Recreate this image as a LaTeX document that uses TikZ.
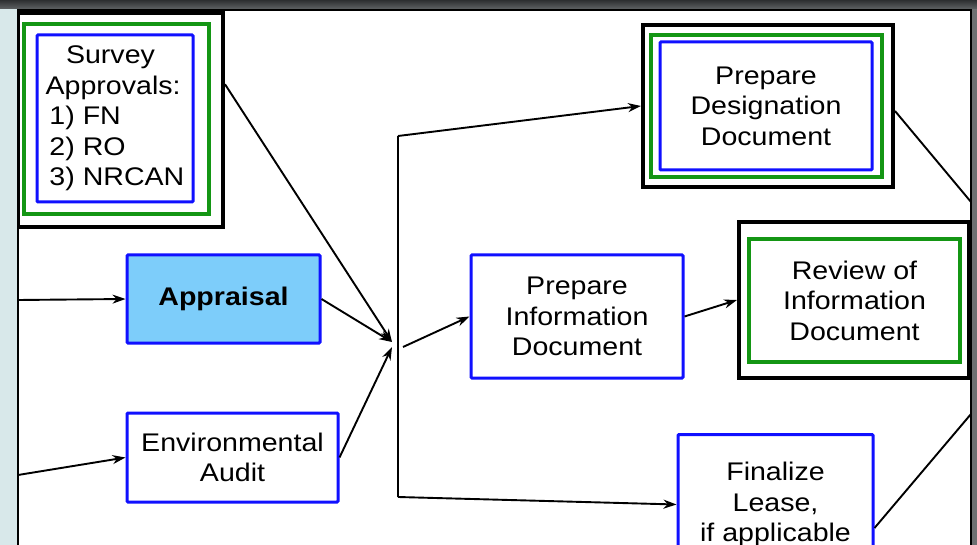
\documentclass[tikz,border=0pt]{standalone}
\usepackage{fontspec}
\setmainfont{Liberation Sans}[FakeStretch=1.12]
\usetikzlibrary{arrows.meta,calc}

\definecolor{boxblue}{RGB}{16,16,255}
\definecolor{boxgreen}{RGB}{20,150,20}
\definecolor{apprfill}{RGB}{125,205,250}
\definecolor{sidepanel}{RGB}{216,232,234}
\definecolor{bardark}{RGB}{45,47,49}
\definecolor{barlight}{RGB}{95,98,100}
\definecolor{rightbar}{RGB}{110,112,114}

\newcommand\diagfont{\fontsize{25.5}{30.5}\selectfont}

\begin{document}
\begin{tikzpicture}[x=1pt,y=-1pt,
  txt/.style={font=\diagfont, align=center, text=black},
  bluebox/.style={txt, draw=boxblue, line width=3pt, fill=white, rounded corners=1pt, inner sep=0pt},
  greenframe/.style={draw=boxgreen, line width=3.5pt, fill=white, inner sep=0pt},
  blackframe/.style={draw=black, line width=4pt, fill=white, inner sep=0pt},
  flow/.style={draw=black, line width=1.9pt, -{Stealth[length=13pt,width=9pt]}},
  plain/.style={draw=black, line width=1.9pt}
]
\useasboundingbox (0,0) rectangle (977,545);

% window surroundings
\fill[white] (0,0) rectangle (977,545);
\fill[sidepanel] (0,0) rectangle (17,545);
\shade[top color=bardark, bottom color=barlight] (0,0) rectangle (977,9);
\fill[rightbar] (972,9) rectangle (977,545);

\begin{scope}
\clip (18,10) rectangle (971,545);

% survey approvals (triple frame)
\node[blackframe, minimum width=205pt, minimum height=214pt] (svout) at (120.5,120) {};
\node[greenframe, minimum width=185pt, minimum height=190pt] (svgreen) at (116.5,119) {};
\node[bluebox, align=left, minimum width=156pt, minimum height=167pt] (sv) at (115,118.5)
  {\hspace*{0.8em}Survey\\Approvals:\\\hspace*{0.15em}1) FN\\\hspace*{0.15em}2) RO\\\hspace*{0.15em}3) NRCAN};

% appraisal and environmental audit
\node[bluebox, fill=apprfill, font=\diagfont\bfseries, minimum width=193pt, minimum height=88pt] (appr) at (223.5,299) {Appraisal};
\node[bluebox, minimum width=211pt, minimum height=89pt] (env) at (232.5,457.5) {Environmental\\Audit};

% designation document (triple frame)
\node[blackframe, minimum width=250pt, minimum height=162pt] (des) at (768,106) {};
\node[greenframe, minimum width=231pt, minimum height=142pt] (desgreen) at (766.5,106) {};
\node[bluebox, minimum width=212pt, minimum height=128pt] (desin) at (766,106) {Prepare\\Designation\\Document};

% information document
\node[bluebox, minimum width=212pt, minimum height=123pt] (info) at (577,316.5) {Prepare\\Information\\Document};

% review (double frame)
\node[blackframe, minimum width=230pt, minimum height=156pt] (rev) at (854,300) {};
\node[greenframe, txt, minimum width=211pt, minimum height=123pt] (revin) at (854.5,300.5) {Review of\\Information\\Document};

% finalize lease
\node[bluebox, anchor=north, minimum width=195pt, minimum height=140pt] (fin) at (775.5,433) {Finalize\\Lease,\\if applicable};

% junction and free ends
\coordinate (lin1) at (18,300);
\coordinate (lin2) at (18,475);
\coordinate (jtop) at (398,136);
\coordinate (jbot) at (398,497);
\coordinate (jin) at (392,342);
\coordinate (jin2) at (392,347);
\coordinate (jout) at (403,347);
\coordinate (rout1) at (971,202);
\coordinate (rout2) at (971,414);

% connectors
\draw[flow] (lin1) -- (appr.west);
\draw[flow] (lin2) -- (env.west);
\draw[flow] ($(svout.north east)!0.336!(svout.south east)$) -- (jin);
\draw[flow] (appr.east) -- (jin);
\draw[flow] (env.east) -- (jin2);
\draw[plain] (jtop) -- (jbot);
\draw[flow] (jtop) -- (des.west);
\draw[flow] (jout) -- (info.west);
\draw[flow] (jbot) -- (fin.west);
\draw[flow] (info.east) -- (rev.west);
\draw[plain] ($(des.east)+(0,5)$) -- (rout1);
\draw[plain] ($(fin.north east)+(0,95)$) -- (rout2);
\end{scope}

% window frame edges
\draw[line width=2pt] (18,545) -- (18,10) -- (971,10) -- (971,545);
\end{tikzpicture}
\end{document}
